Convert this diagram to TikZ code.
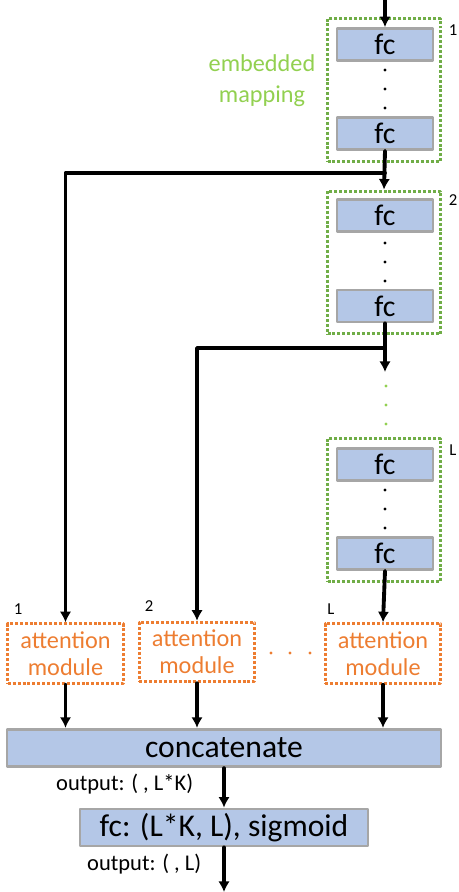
\documentclass[tikz,border=0pt]{standalone}
\usepackage{fontspec}
\setmainfont{Carlito}
\usetikzlibrary{calc,arrows.meta}
\definecolor{fcazul}{RGB}{180,199,231}
\definecolor{bordegris}{RGB}{166,166,166}
\definecolor{verde}{RGB}{112,173,71}
\definecolor{verdeclaro}{RGB}{146,208,80}
\definecolor{naranja}{RGB}{237,125,49}
\tikzstyle{every path}=[line cap=round, line join=round]
\tikzset{
  fcbox/.style={draw=bordegris, fill=fcazul, line width=1.6pt, inner sep=0pt,
    minimum width=1.92cm, minimum height=0.64cm, font=\fontsize{17}{18}\selectfont},
  grupo/.style={draw=verde, line width=1.7pt, line cap=butt, dash pattern=on 1.7pt off 1.1pt,
    minimum width=2.26cm, minimum height=2.86cm, inner sep=0pt},
  atencion/.style={draw=naranja, text=naranja, line width=1.7pt, line cap=butt,
    dash pattern=on 1.7pt off 1.1pt, align=center, inner sep=0pt,
    minimum width=2.31cm, minimum height=1.19cm, font=\fontsize{13.8}{15.2}\selectfont},
  barra/.style={draw=bordegris, fill=fcazul, line width=1.6pt, inner sep=0pt,
    minimum height=0.75cm, font=\fontsize{18}{20}\selectfont},
  flecha/.style={line width=2.2pt, -{Latex[length=6pt,width=6.5pt]}},
  etiqueta/.style={font=\fontsize{9.5}{10}\selectfont},
  salida/.style={anchor=west, font=\fontsize{12.8}{13}\selectfont}
}

\begin{document}
\begin{tikzpicture}[x=0.02cm, y=-0.02cm]
  \useasboundingbox (0,0) rectangle (459,892);
  %grupos de embedded mapping
  \node[grupo] (g1) at (384,90) {};
  \node[grupo] (g2) at (384,262.5) {};
  \node[grupo] (gL) at (384,510) {};
  \node[etiqueta] (n1) at (453,30) {1};
  \node[etiqueta] (n2) at (453,200) {2};
  \node[etiqueta] (nL) at (453,450) {L};
  \node[verdeclaro, align=center, font=\fontsize{13.8}{17.5}\selectfont] (emb) at (262,81) {embedded\\mapping};
  %capas fc
  \node[fcbox] (fc11) at (385,44.5) {fc};
  \node[fcbox] (fc12) at (385,133.5) {fc};
  \node[fcbox] (fc21) at (385,215.5) {fc};
  \node[fcbox] (fc22) at (385,306) {fc};
  \node[fcbox] (fcL1) at (385,464.5) {fc};
  \node[fcbox] (fcL2) at (385,553.5) {fc};
  %puntos
  \foreach \y in {89,262,509}
    \foreach \d in {-19,0,19}
      \fill (385,\y+\d) circle (0.9pt);
  \foreach \y in {386,405,424}
    \fill[verdeclaro] (386,\y) circle (0.9pt);
  %modulos de atencion
  \node[atencion] (att1) at (65.5,653.5) {attention\\module};
  \node[atencion] (att2) at (197,652) {attention\\module};
  \node[atencion] (attL) at (383,653.5) {attention\\module};
  \node[etiqueta] (a1) at (18,609) {1};
  \node[etiqueta] (a2) at (149,606) {2};
  \node[etiqueta] (aL) at (331,609) {L};
  \foreach \x in {271,290,310}
    \fill[naranja] (\x,653) circle (0.9pt);
  %concatenar y salida
  \node[barra, minimum width=8.68cm] (concat) at (224,748) {concatenate};
  \node[barra, minimum width=5.76cm, minimum height=0.74cm] (fcsig) at (224,827.5) {fc: (L*K, L), sigmoid};
  \node[salida] (out1) at (50,784) {output: ( , L*K)};
  \node[salida] (out2) at (81,864) {output: ( , L)};
  %flechas
  \coordinate (entrada) at (385,0);
  \coordinate (rama1) at (385,173);
  \coordinate (rama2) at (385,348);
  \coordinate (finrama2) at (385,372);
  \coordinate (fin) at (224,892);
  \draw[flecha] (entrada) -- (fc11.north);
  \draw[flecha] (fc12.south) -- (g2.north);
  \draw[flecha] (rama1) -| (att1.north);
  \draw[flecha] (fc22.south) -- (finrama2);
  \draw[flecha] (rama2) -| (att2.north);
  \draw[flecha] (fcL2.south) -- (attL.north);
  \draw[flecha] (att1.south) -- (att1.south |- concat.north);
  \draw[flecha] (att2.south) -- (att2.south |- concat.north);
  \draw[flecha] (attL.south) -- (attL.south |- concat.north);
  \draw[flecha] (concat.south) -- (fcsig.north);
  \draw[flecha] (fcsig.south) -- (fin);
\end{tikzpicture}
\end{document}
